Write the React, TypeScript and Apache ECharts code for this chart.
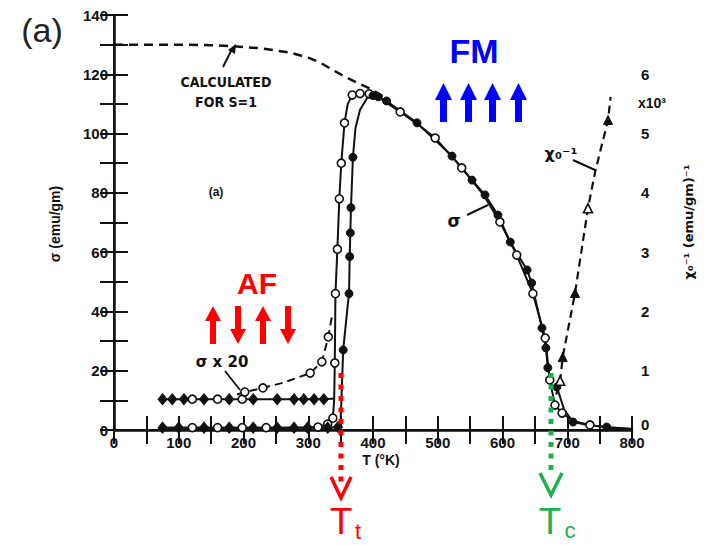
import React, { useEffect, useRef } from "react";
import * as echarts from "echarts";

// Marker codes: 0 none, 1 open circle, 2 filled circle, 3 filled diamond, 4 open triangle, 5 filled triangle, 6 open circle (row)

// Calculated for S=1 (dashed)
const calcT = [0, 100, 150, 184, 230, 272, 300, 318, 340, 360, 375, 395, 420];
const calcSigma = [130, 130, 129.8, 129.5, 128.7, 127.3, 125.6, 124, 121.2, 118.8, 117.2, 115.2, 112];

// Branch with open circles
const openT = [75, 121, 160, 198, 235, 280, 315, 330, 338, 340, 341, 342, 345, 348, 351, 356, 361, 368, 380, 394, 410, 442, 470, 496, 537, 570, 596, 622, 647, 666, 673, 681, 692, 710, 735, 765, 800];
const openSigma = [0.8, 0.8, 0.8, 0.8, 0.8, 0.8, 1, 2, 4, 10, 22.6, 46, 61, 78, 90, 103.6, 110, 113, 113.5, 113.4, 112, 107.3, 103, 98.5, 88.4, 79.5, 70.2, 59, 46, 31, 16.9, 8.4, 5.7, 3, 1.7, 0.8, 0.3];
const openMark = [0, 1, 1, 1, 1, 0, 1, 1, 1, 0, 1, 1, 1, 1, 1, 1, 0, 1, 1, 1, 0, 1, 0, 1, 1, 0, 1, 1, 1, 1, 1, 1, 1, 0, 1, 0, 0];

// Branch with filled circles
const filledT = [75, 100, 139, 178, 215, 252, 278, 299, 330, 346, 350, 352, 354, 360, 363, 364, 365, 366, 369, 373, 380, 391, 400, 408, 421, 468, 522, 553, 573, 593, 612, 638, 645, 661, 667, 670, 676, 684, 695, 709, 735, 761, 800];
const filledSigma = [0.8, 0.8, 0.8, 0.8, 0.8, 0.8, 0.8, 0.8, 0.8, 1, 3, 15, 27, 40, 46, 58.5, 66.5, 75, 92, 102, 108, 112, 112.8, 112.4, 111, 103.6, 92.4, 84.3, 79.3, 72.5, 63.4, 54, 49.6, 34.4, 27.7, 21, 15, 14.5, 7, 2.7, 1.5, 1, 0.3];
const filledMark = [3, 3, 3, 3, 3, 3, 3, 3, 3, 3, 0, 0, 2, 0, 2, 2, 2, 2, 2, 0, 0, 0, 2, 2, 2, 2, 2, 2, 2, 2, 2, 2, 2, 2, 2, 2, 0, 2, 0, 2, 0, 2, 0];

// sigma x 20 : flat row
const rowT = [75, 90, 108, 121, 139, 160, 178, 198, 215, 252, 278, 293, 309, 324, 341];
const rowSigma = [10.4, 10.4, 10.4, 10.4, 10.4, 10.4, 10.4, 10.4, 10.4, 10.4, 10.4, 10.4, 10.4, 10.4, 10.6];
const rowMark = [3, 3, 3, 6, 3, 6, 3, 6, 3, 3, 3, 3, 3, 3, 0];

// sigma x 20 : rising dashed curve
const x20T = [190, 202, 230, 262, 303, 321, 331, 337];
const x20Sigma = [12, 12.8, 14.2, 16, 19.2, 23, 31.4, 39];
const x20Mark = [0, 1, 1, 0, 1, 1, 1, 0];

// inverse susceptibility (right axis, x10^3)
const chiT = [683, 689, 693, 712, 732, 743, 763, 767];
const chiInv = [0.6, 0.83, 1.23, 2.31, 3.74, 4.35, 5.23, 5.62];
const chiMark = [0, 4, 5, 5, 4, 0, 5, 0];

const xTickLabels = [0, 100, 200, 300, 400, 500, 600, 700, 800];
const yTickLabels = [0, 20, 40, 60, 80, 100, 120, 140];
const y2TickLabels = [0, 1, 2, 3, 4, 5, 6];

const BLACK = "#111";
const RED = "#ff0000";
const GREEN = "#1db04b";
const BLUE = "#0000ff";

function markStyle(code: number) {
  switch (code) {
    case 1:
    case 6:
      return { symbol: "circle", symbolSize: 8, itemStyle: { color: "#fff", borderColor: BLACK, borderWidth: 1.6 } };
    case 2:
      return { symbol: "circle", symbolSize: 8, itemStyle: { color: BLACK, borderColor: BLACK, borderWidth: 1 } };
    case 3:
      return { symbol: "diamond", symbolSize: [9, 11], itemStyle: { color: BLACK, borderColor: BLACK, borderWidth: 1 } };
    case 4:
      return { symbol: "triangle", symbolSize: 9, itemStyle: { color: "#fff", borderColor: BLACK, borderWidth: 1.6 } };
    case 5:
      return { symbol: "triangle", symbolSize: 9, itemStyle: { color: BLACK, borderColor: BLACK, borderWidth: 1 } };
    default:
      return { symbol: "none" };
  }
}

function build(ts: number[], vs: number[], marks?: number[]) {
  return ts.map((t, i) => ({ value: [t, vs[i]], ...(marks ? markStyle(marks[i]) : { symbol: "none" }) }));
}

function arrow(cx: number, top: number, bottom: number, up: boolean, color: string, headW: number, headH: number, shaftW: number) {
  const hw = headW / 2;
  const sw = shaftW / 2;
  const pts = up
    ? [[cx, top], [cx + hw, top + headH], [cx + sw, top + headH], [cx + sw, bottom], [cx - sw, bottom], [cx - sw, top + headH], [cx - hw, top + headH]]
    : [[cx, bottom], [cx + hw, bottom - headH], [cx + sw, bottom - headH], [cx + sw, top], [cx - sw, top], [cx - sw, bottom - headH], [cx - hw, bottom - headH]];
  return { type: "polygon", shape: { points: pts }, style: { fill: color }, z: 100 };
}

function txt(x: number, y: number, text: string, font: string, fill: string, extra: any = {}) {
  return {
    type: "text",
    x,
    y,
    z: 100,
    ...extra,
    style: { text, font, fill, textAlign: "center", textVerticalAlign: "middle", ...(extra.style || {}) },
  };
}

function seg(x1: number, y1: number, x2: number, y2: number, color: string, w: number, dash?: number[]) {
  return {
    type: "line",
    z: 100,
    shape: { x1, y1, x2, y2 },
    style: { stroke: color, lineWidth: w, lineDash: dash, lineCap: "butt" },
  };
}

export default function App() {
  const ref = useRef<HTMLDivElement>(null);
  useEffect(() => {
    if (!ref.current) return;
    const chart = echarts.init(ref.current, null, { renderer: "svg" });
    const labelFont = { fontFamily: "Liberation Sans, Arial, sans-serif", fontWeight: "bold" as const, fontSize: 15, color: BLACK };
    const axisCommon = {
      axisLine: { show: true, lineStyle: { color: BLACK, width: 2.5 } },
      axisTick: { show: true, inside: true, length: 14, lineStyle: { color: BLACK, width: 2 } },
      splitLine: { show: false },
    };
    const option: any = {
      animation: false,
      backgroundColor: "#fff",
      grid: { left: 114, top: 15, width: 518, height: 415, containLabel: false },
      xAxis: [
        {
          type: "value",
          position: "bottom",
          min: 0,
          max: 800,
          interval: 50,
          ...axisCommon,
          axisLabel: {
            ...labelFont,
            margin: 5,
            formatter: (v: number) => (xTickLabels.includes(v) ? String(v) : ""),
          },
        },
        {
          type: "value",
          position: "top",
          min: 0,
          max: 800,
          interval: 50,
          ...axisCommon,
          axisLine: { show: true, lineStyle: { color: BLACK, width: 2 } },
          axisLabel: { show: false },
        },
      ],
      yAxis: [
        {
          type: "value",
          position: "left",
          min: 0,
          max: 140,
          interval: 10,
          ...axisCommon,
          axisLabel: {
            ...labelFont,
            margin: 6,
            formatter: (v: number) => (yTickLabels.includes(v) ? String(v) : ""),
          },
        },
        {
          type: "value",
          position: "right",
          min: 0,
          max: 7,
          interval: 0.5,
          ...axisCommon,
          axisLine: { show: true, lineStyle: { color: BLACK, width: 2 } },
          axisLabel: {
            ...labelFont,
            margin: 9,
            formatter: (v: number) => (v === 0 ? "{z|0}" : y2TickLabels.includes(v) ? String(v) : ""),
            rich: {
              z: { ...labelFont, padding: [0, 0, 12, 0] },
            },
          },
        },
      ],
      series: [
        {
          type: "line",
          name: "calc",
          data: build(calcT, calcSigma),
          lineStyle: { color: BLACK, width: 2.5, type: [9, 6] },
          symbol: "none",
          z: 3,
        },
        {
          type: "line",
          name: "open",
          data: build(openT, openSigma, openMark),
          lineStyle: { color: BLACK, width: 2 },
          showAllSymbol: true,
          z: 5,
        },
        {
          type: "line",
          name: "filled",
          data: build(filledT, filledSigma, filledMark),
          lineStyle: { color: BLACK, width: 2 },
          showAllSymbol: true,
          z: 5,
        },
        {
          type: "line",
          name: "row",
          data: build(rowT, rowSigma, rowMark),
          lineStyle: { color: BLACK, width: 2 },
          showAllSymbol: true,
          z: 5,
        },
        {
          type: "line",
          name: "x20",
          data: build(x20T, x20Sigma, x20Mark),
          lineStyle: { color: BLACK, width: 2, type: [8, 5] },
          showAllSymbol: true,
          z: 5,
        },
        {
          type: "line",
          name: "chi",
          yAxisIndex: 1,
          data: build(chiT, chiInv, chiMark),
          lineStyle: { color: BLACK, width: 2.2, type: [8, 5] },
          showAllSymbol: true,
          z: 5,
        },
      ],
      graphic: [
        txt(42, 30, "(a)", "normal 34px 'Liberation Sans', Arial, sans-serif", "#222"),
        txt(55, 224, "σ (emu/gm)", "bold 14px 'Liberation Sans', Arial, sans-serif", BLACK, { rotation: Math.PI / 2 }),
        txt(688, 222, "χ₀⁻¹ (emu/gm)⁻¹", "bold 13px 'DejaVu Sans', 'Liberation Sans', sans-serif", BLACK, { rotation: Math.PI / 2 }),
        txt(381, 460, "T (°K)", "bold 14px 'Liberation Sans', Arial, sans-serif", BLACK),
        txt(638, 103, "x10³", "bold 14px 'Liberation Sans', Arial, sans-serif", BLACK, { style: { textAlign: "left" } }),
        txt(226, 82, "CALCULATED", "bold 14px 'Liberation Sans Narrow', 'DejaVu Sans Condensed', 'Liberation Sans', sans-serif", BLACK),
        txt(226, 102, "FOR S=1", "bold 14px 'Liberation Sans Narrow', 'DejaVu Sans Condensed', 'Liberation Sans', sans-serif", BLACK),
        seg(223, 67, 232, 49, BLACK, 2),
        { type: "polygon", z: 100, shape: { points: [[228, 50], [236, 44], [235, 54]] }, style: { fill: BLACK } },
        txt(216, 192, "(a)", "bold 12px 'Liberation Sans', Arial, sans-serif", BLACK),
        txt(454, 221, "σ", "bold 17px 'DejaVu Sans', sans-serif", BLACK),
        seg(467, 215, 488, 205, BLACK, 2),
        txt(222, 362, "σ x 20", "bold 15px 'DejaVu Sans', 'Liberation Sans', sans-serif", BLACK),
        seg(225, 371, 240, 390, BLACK, 1.8),
        txt(561, 153, "χ₀⁻¹", "bold 16px 'DejaVu Sans', sans-serif", BLACK),
        seg(573, 160, 595, 170, BLACK, 2),
        // FM
        txt(474, 51, "FM", "bold 34px 'Liberation Sans', Arial, sans-serif", BLUE),
        arrow(443.5, 83, 122, true, BLUE, 17, 17, 7),
        arrow(468.5, 83, 122, true, BLUE, 17, 17, 7),
        arrow(492.5, 83, 122, true, BLUE, 17, 17, 7),
        arrow(518.5, 83, 122, true, BLUE, 17, 17, 7),
        // AF
        txt(257, 283, "AF", "bold 30px 'Liberation Sans', Arial, sans-serif", RED),
        arrow(213, 306, 344, true, RED, 16, 15, 6),
        arrow(238, 306, 344, false, RED, 16, 15, 6),
        arrow(263, 306, 344, true, RED, 16, 15, 6),
        arrow(288, 306, 344, false, RED, 16, 15, 6),
        // Tt
        seg(341, 373, 341, 482, RED, 5, [5, 6.5]),
        { type: "polyline", z: 100, shape: { points: [[331, 477], [341, 498], [351, 477]] }, style: { stroke: RED, lineWidth: 3.5, fill: null } },
        txt(341, 521, "T", "normal 37px 'Liberation Sans', Arial, sans-serif", RED),
        txt(358, 531, "t", "normal 22px 'Liberation Sans', Arial, sans-serif", RED),
        // Tc
        seg(551, 373, 551, 470, GREEN, 5, [5, 6.5]),
        { type: "polyline", z: 100, shape: { points: [[540, 473], [551, 495], [562, 473]] }, style: { stroke: GREEN, lineWidth: 3.5, fill: null } },
        txt(550, 521, "T", "normal 37px 'Liberation Sans', Arial, sans-serif", GREEN),
        txt(570, 530, "c", "normal 22px 'Liberation Sans', Arial, sans-serif", GREEN),
      ],
    };
    chart.setOption(option);
    return () => chart.dispose();
  }, []);
  return <div ref={ref} style={{ position: "fixed", left: 0, top: 0, width: 709, height: 545, background: "#fff" }} />;
}
